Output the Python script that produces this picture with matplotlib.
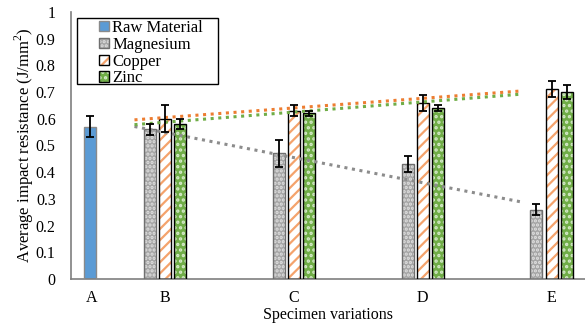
import matplotlib

matplotlib.use("Agg")
import matplotlib.pyplot as plt
import numpy as np
from matplotlib.legend_handler import HandlerTuple
from matplotlib.patches import Rectangle

plt.rcParams["font.family"] = ["Liberation Serif", "DejaVu Serif"]
plt.rcParams["mathtext.fontset"] = "custom"
plt.rcParams["mathtext.rm"] = "Liberation Serif"
plt.rcParams["hatch.linewidth"] = 1.6

# data
categories = ["A", "B", "C", "D", "E"]
raw_value = [0.57]
raw_err = [0.04]
series_names = ["Magnesium", "Copper", "Zinc"]
magnesium = [0.56, 0.47, 0.43, 0.26]
magnesium_err = [0.02, 0.05, 0.03, 0.02]
copper = [0.60, 0.63, 0.66, 0.71]
copper_err = [0.05, 0.02, 0.03, 0.03]
zinc = [0.58, 0.62, 0.64, 0.70]
zinc_err = [0.02, 0.01, 0.01, 0.025]

# layout (B..E at 1..4, raw bar sits on its own at A)
pos_a = 0.415
pos_groups = np.array([1.0, 2.0, 3.0, 4.0])
width = 0.093
step = 0.117

styles = [
    # face, hatch colour, hatch, edge, trend colour
    ("#a5a5a5", "#e0e0e0", "....", "#6f6f6f", "#8c8c8c"),
    ("white", "#f4a36c", "///", "black", "#ed7d31"),
    ("#70ad47", "#d4e9c8", "...", "black", "#70ad47"),
]

W, H = 585, 324
fig = plt.figure(figsize=(W / 100, H / 100), dpi=100)
ax = fig.add_axes([0.1214, 0.139, 0.8786, 0.824])

handles = []
f = ax.bar(pos_a, raw_value, width, color="#5b9bd5", linewidth=0, zorder=2)
e = ax.bar(pos_a, raw_value, width, fill=False, edgecolor="#8a8a8a", linewidth=1, zorder=3)
ax.errorbar(pos_a, raw_value, yerr=raw_err, fmt="none", ecolor="black",
            elinewidth=1.3, capsize=3, capthick=1.3, zorder=6)
handles.append((f[0], e[0]))

data = [(magnesium, magnesium_err), (copper, copper_err), (zinc, zinc_err)]
for i, ((vals, errs), (fc, hc, hatch, ec, tc)) in enumerate(zip(data, styles)):
    x = pos_groups + (i - 1) * step
    f = ax.bar(x, vals, width, color=fc, edgecolor=hc, hatch=hatch, linewidth=0, zorder=2)
    e = ax.bar(x, vals, width, fill=False, edgecolor=ec, linewidth=1, zorder=3)
    ax.errorbar(x, vals, yerr=errs, fmt="none", ecolor="black",
                elinewidth=1.3, capsize=3, capthick=1.3, zorder=6)
    handles.append((f[0], e[0]))
    # linear trendline
    k, b = np.polyfit(pos_groups, vals, 1)
    tx = np.array([pos_groups[0], pos_groups[-1]])
    ax.plot(tx - 0.24, k * tx + b, linestyle=(0, (1, 1.5)), color=tc, linewidth=2.2, zorder=5)

ax.set_xlim(0.267, 4.26)
ax.set_ylim(0, 1)
ax.set_yticks(np.arange(0, 1.01, 0.1))
ax.set_yticklabels(["0"] + [f"{v:.1f}" for v in np.arange(0.1, 0.95, 0.1)] + ["1"])
ax.set_xticks([pos_a + 0.015, *pos_groups])
ax.set_xticklabels(categories)
ax.tick_params(axis="both", length=0, labelsize=11.5)
ax.tick_params(axis="x", pad=8)
ax.tick_params(axis="y", pad=11)
for s in ("top", "right"):
    ax.spines[s].set_visible(False)
for s in ("left", "bottom"):
    ax.spines[s].set_color("#7f7f7f")
    ax.spines[s].set_linewidth(1.2)

ax.set_xlabel("Specimen variations", fontsize=11.5, labelpad=1)
ax.set_ylabel("Average impact resistance (J/mm$^2$)", fontsize=12, labelpad=0)

# legend without its own frame; a wider box is drawn round it below
leg = fig.legend(handles, ["Raw Material"] + series_names,
                 handler_map={tuple: HandlerTuple(ndivide=1)},
                 loc="upper left", bbox_to_anchor=(99 / W, 1 - 20 / H), fontsize=12,
                 frameon=False, handlelength=0.6, handleheight=0.6, handletextpad=0.2,
                 labelspacing=0.05, borderpad=0, borderaxespad=0)
fig.add_artist(Rectangle((77 / W, 1 - 84 / H), 141 / W, 66 / H, transform=fig.transFigure,
                         facecolor="white", edgecolor="black", linewidth=1.0, zorder=0.5))
leg.set_zorder(10)

fig.savefig("out.png", dpi=100)
